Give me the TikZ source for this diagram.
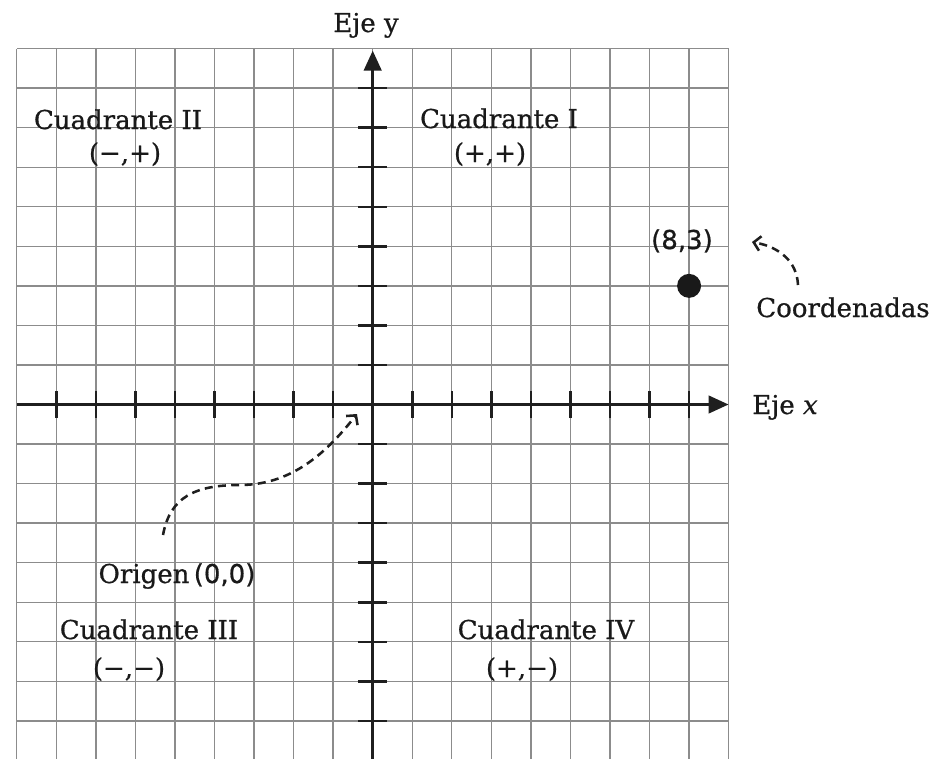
\documentclass[tikz,border=0pt]{standalone}
\usepackage{fontspec}
\setmainfont{DejaVu Serif}[FakeBold=0.7]
\newfontfamily\numfont{DejaVu Sans}[FakeBold=0.7]
\usetikzlibrary{arrows.meta}
\begin{document}
\begin{tikzpicture}[x=0.75pt,y=-0.75pt,
 gridline/.style={draw=black!45, line width=1pt},
 axisline/.style={line width=2.4pt, draw=black!88},
 tickline/.style={line width=1.9pt, draw=black!88},
 lbl/.style={font=\fontsize{19.5}{22}\selectfont, text=black!90, anchor=base, inner sep=0pt},
 numlbl/.style={lbl, font=\numfont\fontsize{19.5}{22}\selectfont},
 dasharrow/.style={line width=1.9pt, dash pattern=on 6pt off 4pt, -{Straight Barb[length=5pt,width=11pt,line width=1.9pt]}, draw=black!88}
]
\useasboundingbox (0,0) rectangle (935,758);
\clip (0,0) rectangle (935,758);
\begin{scope}[shift={(372.7,404.5)}, x=29.66pt, y=29.66pt]
 \draw[gridline, step=1] (-9,-9) grid (9,9);
 \foreach \i in {-8,...,-1,1,2,...,8} {
   \draw[tickline] (\i,-0.33) -- (\i,0.33);
   \draw[tickline] (-0.36,\i) -- (0.36,\i);
 }
 \coordinate (xstart) at (-9,0);
 \coordinate (xend) at (9,0);
 \coordinate (ystart) at (0,-9.2);
 \coordinate (yend) at (0,8.95);
 \draw[axisline, -{Triangle[length=15pt,width=13pt]}] (xstart) -- (xend);
 \draw[axisline, -{Triangle[length=15pt,width=13pt]}] (ystart) -- (yend);
 \node[circle, fill=black!90, inner sep=0pt, minimum size=18pt] (p83) at (8,3) {};
\end{scope}
\node[lbl] (ejey) at (366,32) {Eje y};
\node[lbl] (c2) at (118,129) {Cuadrante II};
\node[lbl] (s2) at (125,162) {(−,+)};
\node[lbl] (c1) at (499,128) {Cuadrante I};
\node[lbl] (s1) at (490,162) {(+,+)};
\node[numlbl] (l83) at (682,249) {(8,3)};
\node[lbl] (coord) at (843,317) {Coordenadas};
\node[lbl] (ejex) at (785,414) {Eje \textit{x}};
\node[lbl] (orig) at (177,583) {Origen\,{\numfont(0,0)}};
\node[lbl] (c3) at (149,639) {Cuadrante III};
\node[lbl] (s3) at (129,677) {(−,−)};
\node[lbl] (c4) at (546,639) {Cuadrante IV};
\node[lbl] (s4) at (522,677) {(+,−)};
\coordinate (o1) at (163,535);
\coordinate (o2) at (357,414);
\draw[dasharrow] (o1) .. controls (170,497) and (195,485) .. (240,485) .. controls (295,485) and (330,448) .. (o2);
\coordinate (k1) at (798,285);
\coordinate (k2) at (752,242);
\draw[dasharrow] (k1) .. controls (797,262) and (780,247) .. (k2);
\end{tikzpicture}
\end{document}
